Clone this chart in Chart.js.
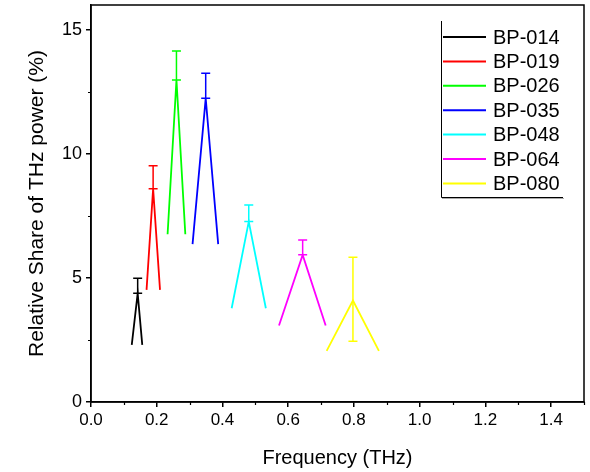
<!DOCTYPE html>
<html>
<head>
<meta charset="utf-8">
<script src="https://cdn.jsdelivr.net/npm/chart.js@4"></script>
<style>
    html, body { margin: 0; padding: 0; background: #fff; }
    #chart-box { width: 590px; height: 472px; }
</style>
</head>
<body>
<div id="chart-box"><canvas id="thz-chart" width="590" height="472"></canvas></div>
<script>
// samples and their colours
const sampleNames = ['BP-014', 'BP-019', 'BP-026', 'BP-035', 'BP-048', 'BP-064', 'BP-080'];
const sampleColors = ['#000000', '#ff0000', '#00ff00', '#0000ff', '#00ffff', '#ff00ff', '#ffff00'];

// each sample is drawn as a triangle: left base -> peak -> right base (THz)
const leftFreq = [0.124, 0.169, 0.233, 0.309, 0.428, 0.572, 0.717];
const peakFreq = [0.142, 0.189, 0.260, 0.349, 0.480, 0.644, 0.797];
const rightFreq = [0.156, 0.210, 0.287, 0.387, 0.532, 0.714, 0.876];

// relative share (%)
const baseShare = [2.30, 4.52, 6.76, 6.36, 3.78, 3.08, 2.06];
const peakShare = [4.38, 8.59, 12.98, 12.24, 7.27, 5.93, 4.09];

// error bars at the peak
const errUp = [0.61, 0.93, 1.17, 1.01, 0.67, 0.60, 1.74];
const errDown = [0, 0, 0, 0, 0, 0, 1.64];

const xTicks = [0, 0.2, 0.4, 0.6, 0.8, 1.0, 1.2, 1.4];
const yTicks = [0, 5, 10, 15];

const FONT = "'Liberation Sans', Arial, sans-serif";
Chart.defaults.font.family = FONT;
Chart.defaults.color = '#000';

const datasets = sampleNames.map((name, i) => ({
    label: name,
    data: [
        { x: leftFreq[i], y: baseShare[i] },
        { x: peakFreq[i], y: peakShare[i] },
        { x: rightFreq[i], y: baseShare[i] }
    ],
    borderColor: sampleColors[i],
    backgroundColor: sampleColors[i],
    borderWidth: 1.8,
    pointRadius: 0,
    tension: 0,
    fill: false
}));

// error bars, frame, minor ticks and the boxed legend
const extrasPlugin = {
    id: 'extras',
    afterDatasetsDraw(chart) {
        const ctx = chart.ctx;
        const xs = chart.scales.x;
        const ys = chart.scales.y;
        ctx.save();
        ctx.lineWidth = 1.5;
        sampleNames.forEach((name, i) => {
            const px = xs.getPixelForValue(peakFreq[i]);
            const top = ys.getPixelForValue(peakShare[i] + errUp[i]);
            const bot = ys.getPixelForValue(peakShare[i] - errDown[i]);
            ctx.strokeStyle = sampleColors[i];
            ctx.beginPath();
            ctx.moveTo(px, top);
            ctx.lineTo(px, bot);
            ctx.moveTo(px - 4.5, top);
            ctx.lineTo(px + 4.5, top);
            ctx.moveTo(px - 4.5, bot);
            ctx.lineTo(px + 4.5, bot);
            ctx.stroke();
        });
        ctx.restore();
    },
    afterDraw(chart) {
        const ctx = chart.ctx;
        const area = chart.chartArea;
        const xs = chart.scales.x;
        const ys = chart.scales.y;
        ctx.save();

        // frame
        ctx.strokeStyle = '#000';
        ctx.lineWidth = 1.5;
        ctx.strokeRect(area.left, area.top, area.right - area.left, area.bottom - area.top);

        // minor ticks
        ctx.lineWidth = 1.2;
        ctx.beginPath();
        for (let v = 0.1; v < 1.5; v += 0.2) {
            const px = Math.round(xs.getPixelForValue(v)) + 0.5;
            ctx.moveTo(px, area.bottom);
            ctx.lineTo(px, area.bottom + 3);
        }
        for (let v = 2.5; v < 16; v += 5) {
            const py = Math.round(ys.getPixelForValue(v)) + 0.5;
            ctx.moveTo(area.left, py);
            ctx.lineTo(area.left - 3, py);
        }
        ctx.stroke();

        // legend
        const boxLeft = 441;
        const boxTop = 21;
        const boxRight = 563;
        const boxBottom = 197;
        ctx.lineWidth = 1;
        ctx.strokeStyle = '#000';
        ctx.beginPath();
        ctx.moveTo(boxLeft + 0.5, boxTop);
        ctx.lineTo(boxLeft + 0.5, boxBottom + 0.5);
        ctx.lineTo(boxRight, boxBottom + 0.5);
        ctx.stroke();
        ctx.strokeStyle = '#aaa';
        ctx.beginPath();
        ctx.moveTo(boxLeft + 1, boxBottom + 1.5);
        ctx.lineTo(boxRight + 1, boxBottom + 1.5);
        ctx.stroke();

        ctx.font = '20px ' + FONT;
        ctx.textBaseline = 'middle';
        ctx.textAlign = 'left';
        chart.data.datasets.forEach((ds, i) => {
            const rowY = 37 + i * 24.4;
            ctx.strokeStyle = ds.borderColor;
            ctx.lineWidth = 2;
            ctx.beginPath();
            ctx.moveTo(443, rowY);
            ctx.lineTo(486, rowY);
            ctx.stroke();
            ctx.fillStyle = '#000';
            ctx.fillText(ds.label, 493, rowY + 1);
        });
        ctx.restore();
    }
};

const chartContext = document.getElementById('thz-chart').getContext('2d');
const thzChart = new Chart(chartContext, {
    type: 'line',
    data: { datasets: datasets },
    options: {
        responsive: false,
        animation: false,
        maintainAspectRatio: false,
        layout: {
            padding: { top: 5, right: 6, left: 0, bottom: 0 }
        },
        scales: {
            x: {
                type: 'linear',
                min: 0,
                max: 1.5,
                afterFit(scale) {
                    scale.height = 70;
                    scale.paddingLeft = 0;
                    scale.paddingRight = 0;
                },
                afterBuildTicks(scale) { scale.ticks = xTicks.map(v => ({ value: v })); },
                ticks: {
                    font: { size: 17 },
                    padding: 3,
                    maxRotation: 0,
                    callback: v => v.toFixed(1)
                },
                grid: {
                    drawOnChartArea: false,
                    drawTicks: true,
                    tickLength: 5,
                    color: '#000',
                    lineWidth: 1.5
                },
                border: { display: true, color: '#000', width: 1.5 },
                title: {
                    display: true,
                    text: 'Frequency (THz)',
                    font: { size: 20 },
                    padding: { top: 0, bottom: 2 }
                }
            },
            y: {
                type: 'linear',
                min: 0,
                max: 16,
                afterFit(scale) {
                    scale.width = 91;
                    scale.paddingTop = 0;
                    scale.paddingBottom = 0;
                },
                afterBuildTicks(scale) { scale.ticks = yTicks.map(v => ({ value: v })); },
                ticks: {
                    font: { size: 18 },
                    padding: 4,
                    callback: v => String(v)
                },
                grid: {
                    drawOnChartArea: false,
                    drawTicks: true,
                    tickLength: 5,
                    color: '#000',
                    lineWidth: 1.5
                },
                border: { display: true, color: '#000', width: 1.5 },
                title: {
                    display: true,
                    text: 'Relative Share of THz power (%)',
                    font: { size: 21 },
                    padding: { top: 25, bottom: 0 }
                }
            }
        },
        plugins: {
            legend: { display: false },
            tooltip: { enabled: false }
        }
    },
    plugins: [extrasPlugin]
});
</script>
</body>
</html>
